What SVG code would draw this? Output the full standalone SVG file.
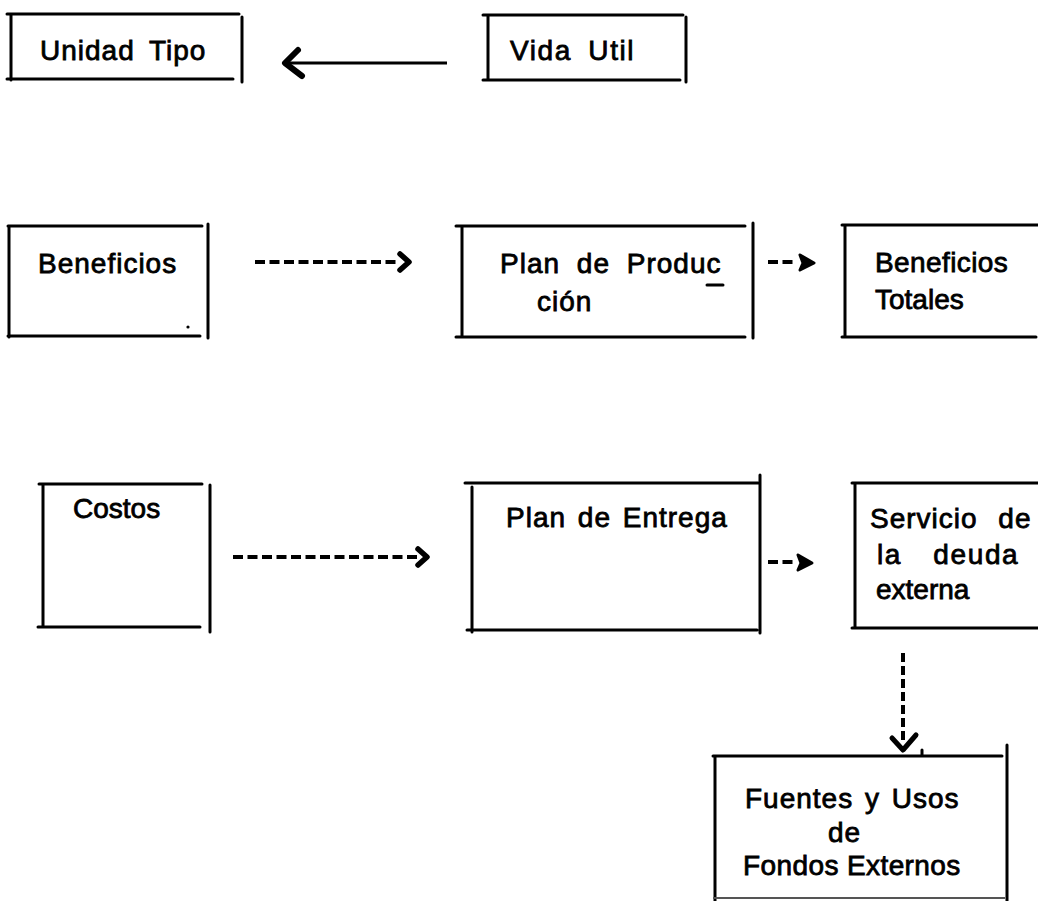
<svg xmlns="http://www.w3.org/2000/svg" width="1038" height="901" viewBox="0 0 1038 901">
<style>
.b{fill:none;stroke:#000;stroke-width:3;stroke-linecap:round}
.t{font-family:"Liberation Sans",Arial,sans-serif;font-size:28px;fill:#000;stroke:#000;stroke-width:0.8;letter-spacing:1px}
.c{fill:none;stroke:#000;stroke-width:3}
.d{fill:none;stroke:#000;stroke-width:4;stroke-dasharray:10 4.5}
.h{fill:none;stroke:#000;stroke-width:5.5;stroke-linejoin:round;stroke-linecap:round}
.f{fill:#000;stroke:#000;stroke-width:3;stroke-linejoin:round;stroke-linecap:round}
</style>
<rect width="1038" height="901" fill="#fff"/>
<g id="unidad-tipo">
<path class="b" d="M7,14 H239 M11,14 V80 M7,79 H233 M242,17 V82"/>
<text class="t" x="40" y="60" style="word-spacing:6px">Unidad Tipo</text>
</g>
<g id="vida-util">
<path class="b" d="M483,15 H683 M488,15 V80 M483,80 H680 M686,17 V82"/>
<text class="t" x="510" y="60" style="word-spacing:7px;letter-spacing:1.6px">Vida Util</text>
</g>
<g id="beneficios">
<path class="b" d="M8,226 H202 M9,226 V337 M8,336 H200 M208,224 V338"/>
<circle cx="188" cy="327" r="1.6" fill="#000"/>
<text class="t" x="38" y="273">Beneficios</text>
</g>
<g id="plan-produccion">
<path class="b" d="M456,226 H745 M462,226 V337 M456,337 H745 M753,223 V338"/>
<text class="t" x="500" y="273" style="word-spacing:8px">Plan de Produc</text>
<path class="b" d="M707,285 H723"/>
<text class="t" x="537" y="311">ción</text>
</g>
<g id="beneficios-totales">
<path class="b" d="M842,225 H1038 M845,225 V337 M842,337 H1036"/>
<text class="t" x="875" y="272" style="letter-spacing:0.4px">Beneficios</text>
<text class="t" x="875" y="309" style="letter-spacing:0">Totales</text>
</g>
<g id="costos">
<path class="b" d="M39,484 H202 M43,484 V627 M38,627 H200 M210,485 V632"/>
<text class="t" x="73" y="518" style="letter-spacing:0">Costos</text>
</g>
<g id="plan-entrega">
<path class="b" d="M465,483 H758 M472,487 V632 M467,630 H757 M760,475 V633"/>
<text class="t" x="506" y="527" style="word-spacing:3px">Plan de Entrega</text>
</g>
<g id="servicio-deuda">
<path class="b" d="M852,483 H1038 M855,483 V628 M852,628 H1038"/>
<text class="t" x="870" y="528" style="word-spacing:12px">Servicio de</text>
<text class="t" x="877" y="564" style="word-spacing:22px;letter-spacing:1.6px">la deuda</text>
<text class="t" x="876" y="599" style="letter-spacing:0">externa</text>
</g>
<g id="fuentes-usos">
<path class="b" d="M713,756 H1002 M715,756 V901 M1007,745 V901 M922,750 V756"/>
<path d="M713,898 H1005" fill="none" stroke="#555" stroke-width="2"/>
<text class="t" x="745" y="808" style="word-spacing:3px">Fuentes y Usos</text>
<text class="t" x="828" y="842">de</text>
<text class="t" x="743" y="875" style="letter-spacing:0.4px">Fondos Externos</text>
</g>
<g id="connectors">
<path class="c" d="M447,63 H289"/>
<path d="M298,50 L285,63 L302,76" fill="none" stroke="#000" stroke-width="6" stroke-linecap="round" stroke-linejoin="round"/>
<path class="d" d="M255,262 H400"/>
<path class="h" d="M400,254 L409,262 L400,270"/>
<path class="d" d="M768,262 H795"/>
<path class="f" d="M800,255 L814,263 L800,270 L803,263 Z"/>
<path class="d" d="M233,557 H418"/>
<path class="h" d="M418,549 L427,557 L418,565"/>
<path class="d" d="M768,562 H793"/>
<path class="f" d="M798,555 L812,563 L798,570 L801,563 Z"/>
<path d="M903,653 V742" fill="none" stroke="#000" stroke-width="4" stroke-dasharray="9 4"/>
<path d="M892,738 L903,750 L916,735" fill="none" stroke="#000" stroke-width="5" stroke-linecap="round" stroke-linejoin="round"/>
</g>
</svg>
